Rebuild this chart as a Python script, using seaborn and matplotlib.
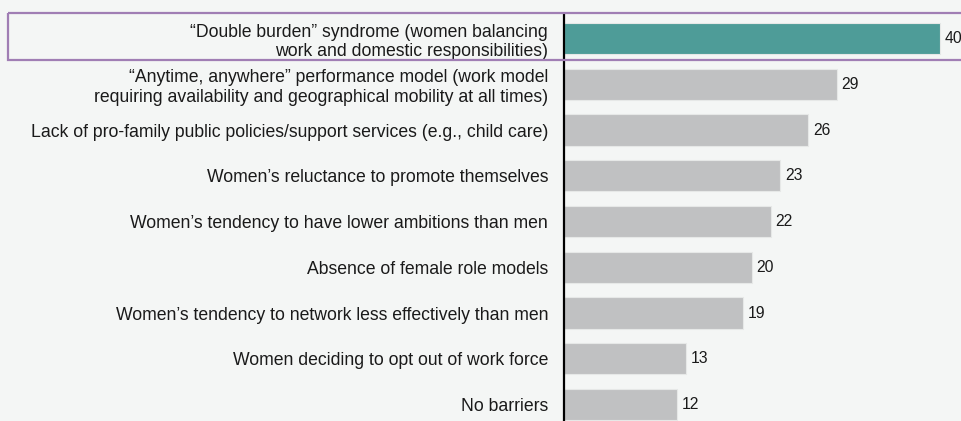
import numpy as np
import matplotlib.pyplot as plt
import matplotlib.transforms as mtransforms
from matplotlib.patches import Rectangle
import pandas as pd
import seaborn as sns

# data
labels = [
    "\u201cDouble burden\u201d syndrome (women balancing\nwork and domestic responsibilities)",
    "\u201cAnytime, anywhere\u201d performance model (work model\nrequiring availability and geographical mobility at all times)",
    "Lack of pro-family public policies/support services (e.g., child care)",
    "Women\u2019s reluctance to promote themselves",
    "Women\u2019s tendency to have lower ambitions than men",
    "Absence of female role models",
    "Women\u2019s tendency to network less effectively than men",
    "Women deciding to opt out of work force",
    "No barriers",
]
values = [40, 29, 26, 23, 22, 20, 19, 13, 12]
bar_colors = ["#4e9c98"] + ["#c0c1c2"] * 8

df = pd.DataFrame({"label": labels, "value": values})

sns.set_style("white")
plt.rcParams['font.family'] = ['Liberation Sans', 'DejaVu Sans']
bg = "#f4f6f5"

fig = plt.figure(figsize=(9.61, 4.21), dpi=100, facecolor=bg)
ax = fig.add_axes([564 / 961, 0, 397 / 961, 406 / 421])
ax.set_facecolor(bg)

sns.barplot(data=df, y="label", x="value", hue="label", palette=bar_colors,
            legend=False, orient="h", width=0.68, ax=ax,
            edgecolor="#e6e8e7", linewidth=0.8, saturation=1)

ax.set_xlim(0, 42.23)
ax.set_ylim(8.36, -0.514)
ax.set_xlabel("")
ax.set_ylabel("")
ax.set_xticks([])
ax.tick_params(axis="y", length=0, pad=11.5, labelsize=12.7, colors="#1a1a1a")
for t in ax.get_yticklabels():
    t.set_linespacing(1.2)

for s in ["top", "right", "bottom"]:
    ax.spines[s].set_visible(False)
ax.spines["left"].set_color("black")
ax.spines["left"].set_linewidth(1.6)

# value labels
for i, v in enumerate(values):
    ax.text(v + 0.5, i, str(v), va="center", ha="left", fontsize=11.3,
            color="#1a1a1a", clip_on=False)

# highlight box around the first row
trans = mtransforms.blended_transform_factory(fig.transFigure, ax.transData)
box = Rectangle((8 / 961, -0.557), 1.0, 1.027, transform=trans,
                fill=False, edgecolor="#a07eb4", linewidth=1.6,
                clip_on=False, zorder=10)
ax.add_patch(box)

fig.savefig("out.png", dpi=100, facecolor=bg)
